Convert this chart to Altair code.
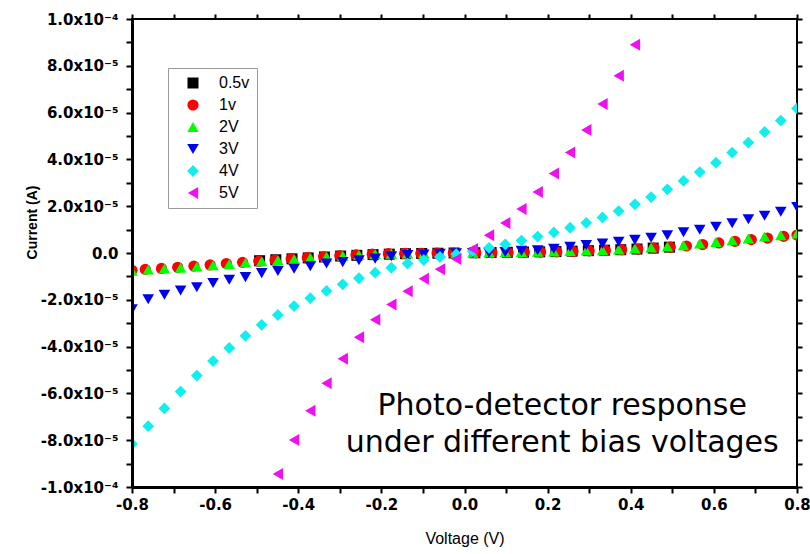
import altair as alt
import pandas as pd

# Sweep voltages (V) shared by the 2V, 3V and 4V runs
voltage = [-0.800, -0.761, -0.722, -0.683, -0.644, -0.605, -0.566, -0.527, -0.488, -0.449,
           -0.410, -0.371, -0.332, -0.293, -0.254, -0.215, -0.176, -0.137, -0.098, -0.059,
           -0.020, 0.020, 0.059, 0.098, 0.137, 0.176, 0.215, 0.254, 0.293, 0.332,
           0.371, 0.410, 0.449, 0.488, 0.527, 0.566, 0.605, 0.644, 0.683, 0.722,
           0.761, 0.800]

# Sweep voltages of the 1v run
voltage_1v = [-0.800, -0.768, -0.729, -0.690, -0.651, -0.612, -0.573, -0.534, -0.495, -0.456,
              -0.417, -0.378, -0.339, -0.300, -0.261, -0.222, -0.183, -0.144, -0.105, -0.066,
              -0.027, 0.027, 0.066, 0.105, 0.144, 0.183, 0.222, 0.261, 0.300, 0.339,
              0.378, 0.417, 0.456, 0.495, 0.534, 0.573, 0.612, 0.651, 0.690, 0.729,
              0.768, 0.800]

# Sweep voltages of the 0.5v run
voltage_05v = [-0.493, -0.454, -0.415, -0.376, -0.337, -0.298, -0.259, -0.220, -0.181, -0.142,
               -0.103, -0.064, -0.025, 0.025, 0.064, 0.103, 0.142, 0.181, 0.220, 0.259,
               0.298, 0.337, 0.376, 0.415, 0.454, 0.493]

# Sweep voltages of the 5V run (inside the plotted current range)
voltage_5v = [-0.449, -0.410, -0.371, -0.332, -0.293, -0.254, -0.215, -0.176, -0.137, -0.098,
              -0.059, -0.020, 0.020, 0.059, 0.098, 0.137, 0.176, 0.215, 0.254, 0.293,
              0.332, 0.371, 0.410]

# Measured currents (A)
current_05v = [-3.3e-6, -2.9e-6, -2.5e-6, -2.1e-6, -1.7e-6, -1.3e-6, -1.0e-6, -7e-7, -5e-7, -3e-7,
               -2e-7, -1e-7, 0.0, 1e-7, 2e-7, 3e-7, 4e-7, 5e-7, 6e-7, 8e-7,
               1.0e-6, 1.2e-6, 1.4e-6, 1.7e-6, 2.1e-6, 2.5e-6]

current_1v = [-7.4e-6, -7.0e-6, -6.6e-6, -6.1e-6, -5.6e-6, -5.1e-6, -4.5e-6, -4.0e-6, -3.5e-6, -3.0e-6,
              -2.5e-6, -2.0e-6, -1.6e-6, -1.2e-6, -8e-7, -5e-7, -3e-7, -2e-7, -1e-7, 0.0,
              0.0, 1e-7, 1e-7, 2e-7, 3e-7, 4e-7, 5e-7, 7e-7, 9e-7, 1.1e-6,
              1.4e-6, 1.7e-6, 2.1e-6, 2.5e-6, 3.0e-6, 3.6e-6, 4.3e-6, 5.0e-6, 5.7e-6, 6.4e-6,
              7.1e-6, 7.7e-6]

current_2v = [-7.6e-6, -7.1e-6, -6.7e-6, -6.3e-6, -5.8e-6, -5.3e-6, -4.7e-6, -4.1e-6, -3.6e-6, -3.1e-6,
              -2.6e-6, -2.1e-6, -1.6e-6, -1.2e-6, -8e-7, -5e-7, -3e-7, -2e-7, -1e-7, 0.0,
              0.0, 1e-7, 2e-7, 3e-7, 4e-7, 5e-7, 6e-7, 8e-7, 1.0e-6, 1.2e-6,
              1.5e-6, 1.9e-6, 2.3e-6, 2.7e-6, 3.3e-6, 4.0e-6, 4.7e-6, 5.4e-6, 6.2e-6, 7.0e-6,
              7.6e-6, 8.3e-6]

current_3v = [-2.41e-5, -1.98e-5, -1.78e-5, -1.60e-5, -1.46e-5, -1.28e-5, -1.14e-5, -1.03e-5, -8.6e-6, -7.7e-6,
              -6.7e-6, -5.7e-6, -4.5e-6, -3.9e-6, -3.1e-6, -2.4e-6, -1.4e-6, -9e-7, -6e-7, -3e-7,
              -1e-7, 0.0, 1e-7, 4e-7, 9e-7, 1.2e-6, 1.8e-6, 2.7e-6, 3.4e-6, 4.0e-6,
              4.8e-6, 5.6e-6, 6.5e-6, 7.6e-6, 8.9e-6, 9.9e-6, 1.12e-5, 1.27e-5, 1.44e-5, 1.59e-5,
              1.76e-5, 1.96e-5]

current_4v = [-8.16e-5, -7.40e-5, -6.64e-5, -5.92e-5, -5.24e-5, -4.62e-5, -4.06e-5, -3.54e-5, -3.07e-5, -2.65e-5,
              -2.27e-5, -1.93e-5, -1.62e-5, -1.34e-5, -1.08e-5, -8.4e-6, -6.3e-6, -4.5e-6, -3.0e-6, -1.7e-6,
              -5e-7, 8e-7, 2.2e-6, 3.7e-6, 5.3e-6, 7.0e-6, 8.8e-6, 1.08e-5, 1.29e-5, 1.52e-5,
              1.79e-5, 2.08e-5, 2.39e-5, 2.72e-5, 3.08e-5, 3.46e-5, 3.86e-5, 4.29e-5, 4.72e-5, 5.17e-5,
              5.66e-5, 6.18e-5]

current_5v = [-9.44e-5, -7.99e-5, -6.74e-5, -5.57e-5, -4.52e-5, -3.60e-5, -2.85e-5, -2.20e-5, -1.63e-5, -1.10e-5,
              -6.9e-6, -2.6e-6, 1.7e-6, 7.6e-6, 1.28e-5, 1.88e-5, 2.61e-5, 3.40e-5, 4.30e-5, 5.26e-5,
              6.37e-5, 7.57e-5, 8.90e-5]

series_names = ["0.5v", "1v", "2V", "3V", "4V", "5V"]
series_colors = ["#000000", "#FF0000", "#00FF00", "#0000F0", "#11EEEE", "#EE11EE"]
series_shapes = ["square", "circle", "triangle-up", "triangle-down", "diamond", "triangle-left"]
series_sizes = [121, 144, 196, 196, 225, 210]

x_ticks = [-0.8, -0.7, -0.6, -0.5, -0.4, -0.3, -0.2, -0.1, 0.0, 0.1, 0.2, 0.3, 0.4, 0.5, 0.6, 0.7, 0.8]
y_ticks = [-1.0e-4, -9.0e-5, -8.0e-5, -7.0e-5, -6.0e-5, -5.0e-5, -4.0e-5, -3.0e-5, -2.0e-5, -1.0e-5, 0.0,
           1.0e-5, 2.0e-5, 3.0e-5, 4.0e-5, 5.0e-5, 6.0e-5, 7.0e-5, 8.0e-5, 9.0e-5, 1.0e-4]

note_text = "Photo-detector response\nunder different bias voltages"
note_x = [0.235]
note_y = [-6.92e-5]

# Long table, rows in drawing order (0.5v at the bottom, 5V on top)
runs = [
    ("0.5v", voltage_05v, current_05v),
    ("1v", voltage_1v, current_1v),
    ("2V", voltage, current_2v),
    ("3V", voltage, current_3v),
    ("4V", voltage, current_4v),
    ("5V", voltage_5v, current_5v),
]
rows = []
for name, vs, cs in runs:
    for v, c in zip(vs, cs):
        rows.append({"series": name, "voltage": v, "current": c})
df = pd.DataFrame(rows)
df["draw"] = range(len(df))

notes = pd.DataFrame({"x": note_x, "y": note_y, "text": [note_text]})

x_scale = alt.Scale(domain=[-0.8, 0.8], nice=False, zero=False)
y_scale = alt.Scale(domain=[-1.0e-4, 1.0e-4], nice=False, zero=False)

x_label_expr = ("abs(round(datum.value * 10)) % 2 != 0 ? '' : "
                "(datum.value < -1e-9 ? '-' : '') + format(abs(datum.value), '.1f')")
y_label_expr = ("abs(datum.value) < 1e-12 ? '0.0\u2002' : "
                "(abs(round(datum.value * 1e5)) % 2 != 0 ? '' : "
                "(datum.value < 0 ? '-' : '') + "
                "(abs(datum.value) > 9.5e-5 ? '1.0x10\u207b\u2074' : "
                "format(abs(datum.value) * 1e5, '.1f') + 'x10\u207b\u2075'))")

legend = alt.Legend(title=None)

points = alt.Chart(df).mark_point(filled=True, opacity=1, clip=True, strokeWidth=0).encode(
    x=alt.X("voltage:Q", scale=x_scale,
            axis=alt.Axis(orient="bottom", values=x_ticks, labelExpr=x_label_expr,
                          title="Voltage (V)", titleFont="Liberation Sans", titleFontSize=16,
                          titleFontWeight="normal", titleY=51, titleBaseline="middle",
                          labelFont="DejaVu Sans", labelFontWeight="bold", labelFontSize=15,
                          labelPadding=4, tickSize=6, tickWidth=2, domainWidth=3,
                          labelFlush=False, labelOverlap=False, zindex=1)),
    y=alt.Y("current:Q", scale=y_scale,
            axis=alt.Axis(orient="left", values=y_ticks, labelExpr=y_label_expr,
                          title="Current (A)", titleFont="Liberation Sans", titleFontSize=14,
                          titleFontWeight="bold", titleX=-100, titleY=203, titleAngle=-90,
                          titleAlign="center", titleBaseline="middle",
                          labelFont="DejaVu Sans", labelFontWeight="bold", labelFontSize=15,
                          labelPadding=8, tickSize=6, tickWidth=2, domainWidth=3,
                          labelFlush=False, labelOverlap=False, zindex=1)),
    color=alt.Color("series:N", scale=alt.Scale(domain=series_names, range=series_colors), legend=legend),
    shape=alt.Shape("series:N", scale=alt.Scale(domain=series_names, range=series_shapes), legend=legend),
    size=alt.Size("series:N", scale=alt.Scale(domain=series_names, range=series_sizes), legend=None),
    order=alt.Order("draw:Q"),
)

# Caption inside the plot; its layer also carries the tick marks of the top and right frame edges
caption = alt.Chart(notes).mark_text(font="DejaVu Sans", fontSize=30, align="center",
                                     baseline="alphabetic", lineBreak="\n", lineHeight=37,
                                     color="black").encode(
    x=alt.X("x:Q", scale=x_scale,
            axis=alt.Axis(orient="top", values=x_ticks, labels=False, title=None, domain=False,
                          tickSize=5, tickWidth=2, zindex=1)),
    y=alt.Y("y:Q", scale=y_scale,
            axis=alt.Axis(orient="right", values=y_ticks, labels=False, title=None, domain=False,
                          tickSize=5, tickWidth=2, zindex=1)),
    text="text:N",
)

chart = alt.layer(points, caption).resolve_axis(x="independent", y="independent").properties(
    width=665,
    height=468,
    autosize=alt.AutoSizeParams(type="none"),
    padding={"left": 132, "top": 19, "right": 13, "bottom": 67},
    background="white",
).configure_view(
    stroke="black", strokeWidth=2
).configure_axis(
    domainColor="black", tickColor="black", labelColor="black", titleColor="black", grid=False
).configure_legend(
    orient="none", legendX=36, legendY=49,
    strokeColor="#9a9a9a", fillColor="white", padding=7,
    labelFont="Liberation Sans", labelFontSize=16, labelColor="black",
    symbolSize=100, symbolStrokeWidth=0, symbolOffset=10, labelOffset=18, rowPadding=6,
)

chart.save("out.html", embed_options={"renderer": "svg", "actions": False})
